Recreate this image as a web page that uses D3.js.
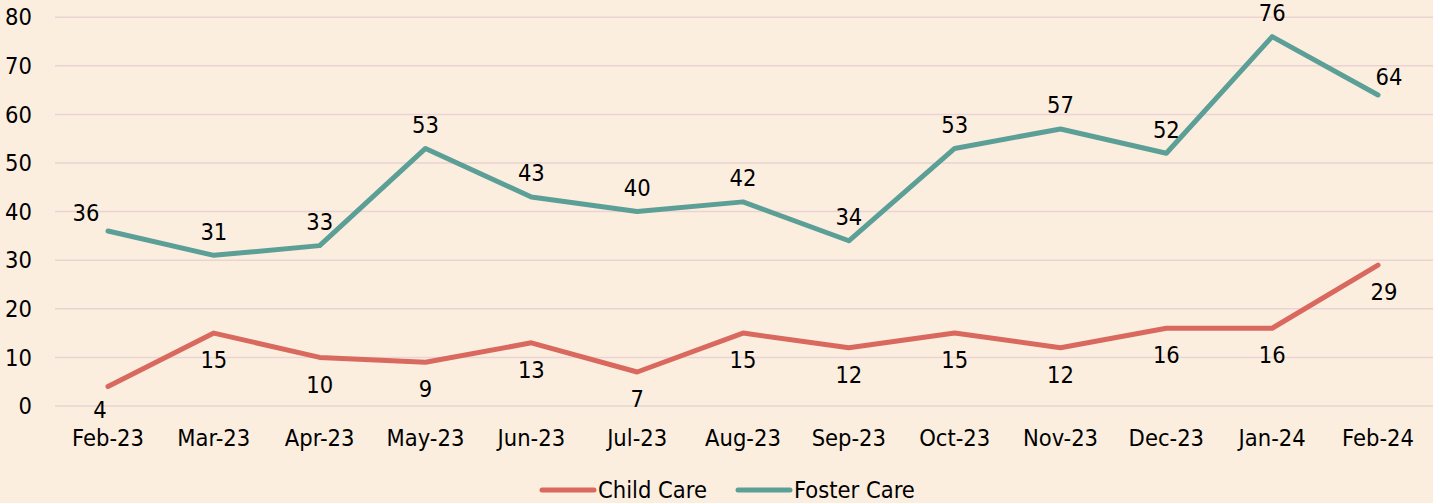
<!DOCTYPE html>
<html>
<head>
<meta charset="utf-8">
<script src="https://cdn.jsdelivr.net/npm/d3@7"></script>
<style>
  html, body { margin: 0; padding: 0; background: #FCEEDF; }
  svg { display: block; }
  text { font-family: "DejaVu Sans Condensed", "DejaVu Sans", sans-serif; font-size: 23.5px; fill: #000; }
</style>
</head>
<body>
<svg id="chart"></svg>
<script>
// Chart data
const months = ["Feb-23", "Mar-23", "Apr-23", "May-23", "Jun-23", "Jul-23", "Aug-23",
                "Sep-23", "Oct-23", "Nov-23", "Dec-23", "Jan-24", "Feb-24"];
const childCare = [4, 15, 10, 9, 13, 7, 15, 12, 15, 12, 16, 16, 29];
const fosterCare = [36, 31, 33, 53, 43, 40, 42, 34, 53, 57, 52, 76, 64];
const yTicks = [0, 10, 20, 30, 40, 50, 60, 70, 80];
const seriesNames = ["Child Care", "Foster Care"];
const seriesColors = ["#D9695E", "#5B9F97"];

const width = 1433;
const height = 503;

const svg = d3.select("#chart")
    .attr("width", width)
    .attr("height", height);

// Scales
const x = d3.scalePoint()
    .domain(months)
    .range([108, 1378]);

const y = d3.scaleLinear()
    .domain([0, 80])
    .range([406, 17.2]);

// Gridlines
svg.append("g")
    .selectAll("line")
    .data(yTicks)
    .join("line")
    .attr("x1", 55)
    .attr("x2", width)
    .attr("y1", d => y(d))
    .attr("y2", d => y(d))
    .attr("stroke", "#EAD3D2")
    .attr("stroke-width", 1.5);

// Y axis labels
svg.append("g")
    .selectAll("text")
    .data(yTicks)
    .join("text")
    .attr("x", 32)
    .attr("y", d => y(d))
    .attr("dy", "0.35em")
    .attr("text-anchor", "end")
    .text(d => d);

// X axis labels
svg.append("g")
    .selectAll("text")
    .data(months)
    .join("text")
    .attr("x", d => x(d))
    .attr("y", 438)
    .attr("dy", "0.35em")
    .attr("text-anchor", "middle")
    .text(d => d);

// Lines
const line = d3.line()
    .x((d, i) => x(months[i]))
    .y(d => y(d));

const series = [
    { name: seriesNames[0], values: childCare, color: seriesColors[0], below: true },
    { name: seriesNames[1], values: fosterCare, color: seriesColors[1], below: false }
];

series.forEach(s => {
    svg.append("path")
        .datum(s.values)
        .attr("fill", "none")
        .attr("stroke", s.color)
        .attr("stroke-width", 5)
        .attr("stroke-linejoin", "round")
        .attr("stroke-linecap", "round")
        .attr("d", line);

    // Data labels: child below, foster above
    svg.append("g")
        .selectAll("text")
        .data(s.values)
        .join("text")
        .attr("x", (d, i) => {
            let dx = 0;
            if (i === 0) dx = s.below ? -8 : -22;
            if (i === months.length - 1) dx = s.below ? 6 : 11;
            return x(months[i]) + dx;
        })
        .attr("y", (d, i) => {
            if (!s.below && (i === 0 || i === months.length - 1)) return y(d) - 18;
            if (s.below && i === 0) return y(d) + 23;
            return y(d) + (s.below ? 27 : -24);
        })
        .attr("dy", "0.35em")
        .attr("text-anchor", "middle")
        .text(d => d);
});

// Legend
const legend = svg.append("g");
const legendItems = [
    { name: seriesNames[0], color: seriesColors[0], x: 540 },
    { name: seriesNames[1], color: seriesColors[1], x: 736 }
];
legendItems.forEach(item => {
    legend.append("line")
        .attr("x1", item.x + 2)
        .attr("x2", item.x + 54)
        .attr("y1", 490)
        .attr("y2", 490)
        .attr("stroke", item.color)
        .attr("stroke-width", 5)
        .attr("stroke-linecap", "round");
    legend.append("text")
        .attr("x", item.x + 58)
        .attr("y", 490)
        .attr("dy", "0.35em")
        .text(item.name);
});
</script>
</body>
</html>
